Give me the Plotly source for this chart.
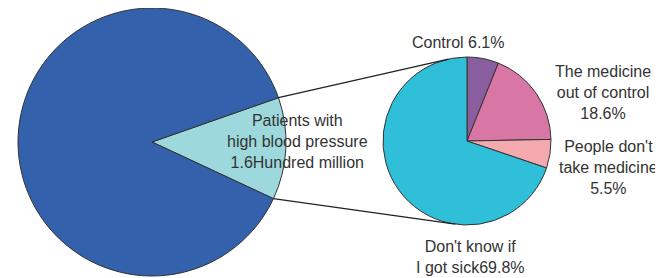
import math
import plotly.graph_objects as go

# ---- data ----
big_labels = ["Patients with high blood pressure", "Others"]
big_values = [1.6, 11.4]  # hundred million
small_labels = ["Control", "The medicine out of control", "People don't take medicine", "Don't know if I got sick"]
small_values = [6.1, 18.6, 5.5, 69.8]

big_text = "Patients with<br>high blood pressure<br>1.6Hundred million"
small_texts = ["Control 6.1%", "The medicine<br>out of control<br>18.6%",
               "People don't<br>take medicine<br>5.5%", "Don't know if<br>I got sick69.8%"]

W, H = 663, 278
OFF = 8  # page body margin offset
# geometry (screen pixels)
bc, br = (152, 142), 134
sc, sr = (467, 141), 84
big_rot = 70.7

def X(px):
    return (px - OFF) / W
def Y(py):
    return 1 - (py - OFF) / H

def dom(c, r):
    ys = [min(1, max(0, Y(c[1] + r))), min(1, max(0, Y(c[1] - r)))]
    return dict(x=[X(c[0] - r), X(c[0] + r)], y=ys)

line = dict(color="#333333", width=1)
fig = go.Figure()
fig.add_trace(go.Pie(labels=big_labels, values=big_values, sort=False, direction="clockwise",
                     rotation=big_rot, textinfo="none", hoverinfo="label+value",
                     marker=dict(colors=["#9DD9DC", "#3461AC"], line=line),
                     domain=dom(bc, br), showlegend=False))
fig.add_trace(go.Pie(labels=small_labels, values=small_values, sort=False, direction="clockwise",
                     rotation=0, textinfo="none", hoverinfo="label+percent",
                     marker=dict(colors=["#8A5D9F", "#D877A5", "#F4A9AE", "#2FBFD8"], line=line),
                     domain=dom(sc, sr), showlegend=False))

# connector lines: tangents from slice edge points of big pie to small pie
tot = sum(big_values)
a1 = math.radians(big_rot)  # clockwise from 12
a2 = math.radians(big_rot + 360 * big_values[0] / tot)
def pt(c, r, a):
    return (c[0] + r * math.sin(a), c[1] - r * math.cos(a))
P1, P2 = pt(bc, br, a1), pt(bc, br, a2)

def tangent(P, sign):
    dx, dy = sc[0] - P[0], sc[1] - P[1]
    d = math.hypot(dx, dy)
    th = math.atan2(dy, dx) + sign * math.asin(sr / d)
    L = math.sqrt(d * d - sr * sr)
    return (P[0] + L * math.cos(th), P[1] + L * math.sin(th))

for P, s in [(P1, -1), (P2, 1)]:
    Q = tangent(P, s)
    fig.add_shape(type="line", xref="paper", yref="paper",
                  x0=X(P[0]), y0=Y(P[1]), x1=X(Q[0]), y1=Y(Q[1]),
                  line=dict(color="#222222", width=1.3))

font = dict(family="Liberation Sans, Arial, sans-serif", size=16, color="#333333")
labels_pos = [(big_text, 297, 141), (small_texts[0], 458, 42), (small_texts[1], 603, 92),
              (small_texts[2], 608, 167), (small_texts[3], 470, 257)]
for t, x, y in labels_pos:
    fig.add_annotation(text=t, x=X(x), y=Y(y), xref="paper", yref="paper",
                       showarrow=False, font=font, align="center", xanchor="center", yanchor="middle")

fig.update_layout(width=W, height=H, margin=dict(l=0, r=0, t=0, b=0),
                  paper_bgcolor="white", plot_bgcolor="white")
fig.write_html("out.html")
